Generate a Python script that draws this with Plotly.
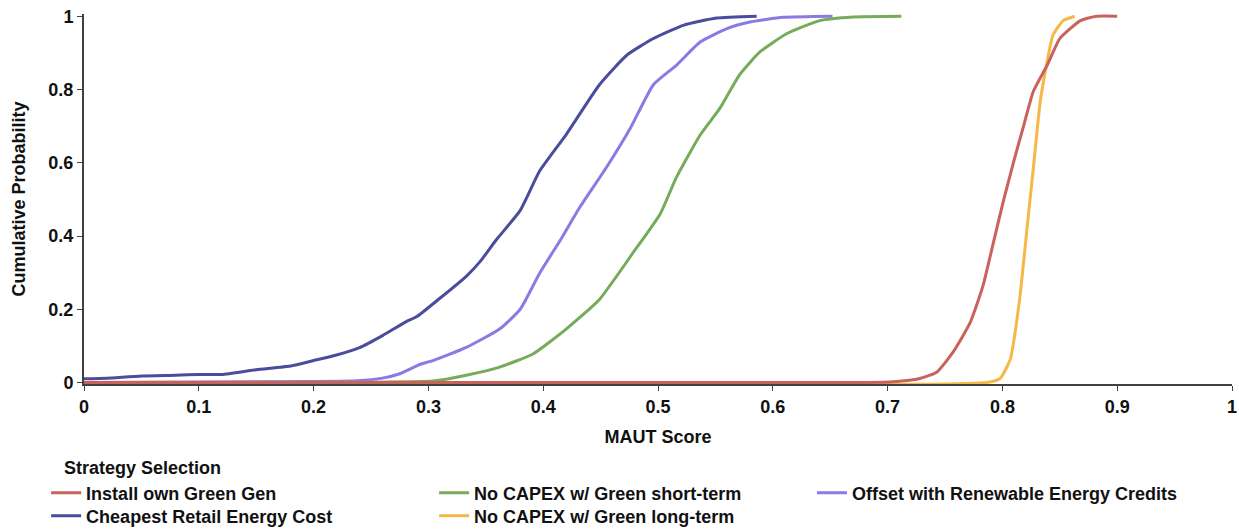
import plotly.graph_objects as go

# Data (cumulative probability vs MAUT score)
cheap_x = [0, 0.02, 0.05, 0.08, 0.1, 0.12, 0.15, 0.18, 0.2, 0.22, 0.24, 0.26, 0.28, 0.29, 0.31, 0.333,
           0.345, 0.359, 0.38, 0.397, 0.42, 0.449, 0.473, 0.496, 0.522, 0.551, 0.586]
cheap_y = [0.01, 0.012, 0.018, 0.02, 0.022, 0.022, 0.035, 0.045, 0.06, 0.075, 0.095, 0.128, 0.165, 0.18,
           0.23, 0.29, 0.33, 0.389, 0.47, 0.578, 0.677, 0.813, 0.894, 0.939, 0.975, 0.995, 1.0]

offset_x = [0, 0.2, 0.238, 0.26, 0.275, 0.293, 0.304, 0.333, 0.362, 0.38, 0.397, 0.415, 0.432, 0.455,
            0.476, 0.496, 0.516, 0.537, 0.56, 0.58, 0.609, 0.652]
offset_y = [0, 0.003, 0.005, 0.012, 0.024, 0.05, 0.06, 0.096, 0.146, 0.2, 0.299, 0.389, 0.479, 0.587,
            0.695, 0.813, 0.866, 0.93, 0.966, 0.984, 0.997, 1.0]

short_x = [0, 0.25, 0.28, 0.304, 0.333, 0.362, 0.391, 0.42, 0.449, 0.478, 0.502, 0.516, 0.537, 0.554,
           0.571, 0.589, 0.612, 0.641, 0.67, 0.712]
short_y = [0, 0.001, 0.002, 0.004, 0.02, 0.042, 0.078, 0.146, 0.227, 0.353, 0.461, 0.56, 0.677, 0.749,
           0.84, 0.903, 0.952, 0.988, 0.998, 1.0]

install_x = [0, 0.68, 0.705, 0.728, 0.743, 0.757, 0.772, 0.783, 0.792, 0.801, 0.81, 0.818, 0.827,
             0.839, 0.85, 0.868, 0.882, 0.9]
install_y = [0, 0, 0.002, 0.011, 0.029, 0.083, 0.164, 0.263, 0.38, 0.497, 0.605, 0.695, 0.795,
             0.866, 0.939, 0.988, 1.0, 1.0]

long_x = [0, 0.786, 0.798, 0.807, 0.815, 0.821, 0.827, 0.833, 0.839, 0.844, 0.853, 0.863]
long_y = [0, 0, 0.011, 0.065, 0.227, 0.407, 0.587, 0.768, 0.876, 0.948, 0.988, 1.0]

x_ticks = [0, 0.1, 0.2, 0.3, 0.4, 0.5, 0.6, 0.7, 0.8, 0.9, 1]
x_tick_labels = ["0", "0.1", "0.2", "0.3", "0.4", "0.5", "0.6", "0.7", "0.8", "0.9", "1"]
y_ticks = [0, 0.2, 0.4, 0.6, 0.8, 1]
y_tick_labels = ["0", "0.2", "0.4", "0.6", "0.8", "1"]

# (name, x, y, color, legend group box, legend rank) in drawing order
series = [
    ("Cheapest Retail Energy Cost", cheap_x, cheap_y, "#4A4C9C", "legend2", 1),
    ("Offset with Renewable Energy Credits", offset_x, offset_y, "#8A7AE4", "legend3", 1),
    ("No CAPEX w/ Green short-term", short_x, short_y, "#76AB59", "legend", 2),
    ("No CAPEX w/ Green long-term", long_x, long_y, "#F6B747", "legend2", 2),
    ("Install own Green Gen", install_x, install_y, "#C8625A", "legend", 1),
]

fig = go.Figure()
for name, xs, ys, color, leg, rank in series:
    fig.add_trace(go.Scatter(x=xs, y=ys, mode="lines", name="<b>%s</b>" % name,
                             line=dict(color=color, width=3, shape="spline", smoothing=0.5),
                             legend=leg, legendrank=rank))

font_family = "Liberation Sans, Arial, sans-serif"
legend_common = dict(
    orientation="h", xanchor="left", yanchor="middle",
    font=dict(size=18, family=font_family, color="#111111"),
    entrywidth=343, entrywidthmode="pixels",
    traceorder="normal", bgcolor="rgba(0,0,0,0)",
)
fig.update_layout(
    width=1239, height=529,
    margin=dict(l=84, r=7, t=14, b=145, autoexpand=False),
    paper_bgcolor="white", plot_bgcolor="white",
    font=dict(family=font_family, size=18, color="#111111"),
    showlegend=True,
    legend=dict(x=-0.033, y=-0.2946, **legend_common),
    legend2=dict(x=-0.033, y=-0.3568, **legend_common),
    legend3=dict(x=0.6341, y=-0.2946, **legend_common),
    annotations=[dict(
        text="<b>Strategy Selection</b>", xref="paper", yref="paper",
        x=-0.0192, y=-0.227, xanchor="left", yanchor="middle", showarrow=False,
        font=dict(size=18, family=font_family, color="#111111"),
    )],
    xaxis=dict(
        range=[0, 1], tickmode="array", tickvals=x_ticks,
        ticktext=["<b>%s</b>" % t for t in x_tick_labels],
        showgrid=False, zeroline=False, showline=True, linecolor="#404040", linewidth=2,
        ticks="outside", ticklen=5, tickcolor="#404040", tickwidth=1, ticklabelstandoff=0,
        tickfont=dict(size=18, family=font_family),
        title=dict(text="<b>MAUT Score</b>", font=dict(size=18, family=font_family), standoff=15),
    ),
    yaxis=dict(
        range=[-0.004, 1.006], tickmode="array", tickvals=y_ticks,
        ticktext=["<b>%s</b>" % t for t in y_tick_labels],
        showgrid=False, zeroline=False, showline=True, linecolor="#404040", linewidth=2,
        ticks="outside", ticklen=5, tickcolor="#404040", tickwidth=1,
        tickfont=dict(size=18, family=font_family),
        title=dict(text="<b>Cumulative Probability</b>", font=dict(size=18, family=font_family), standoff=18),
    ),
)

fig.write_html("out.html")
